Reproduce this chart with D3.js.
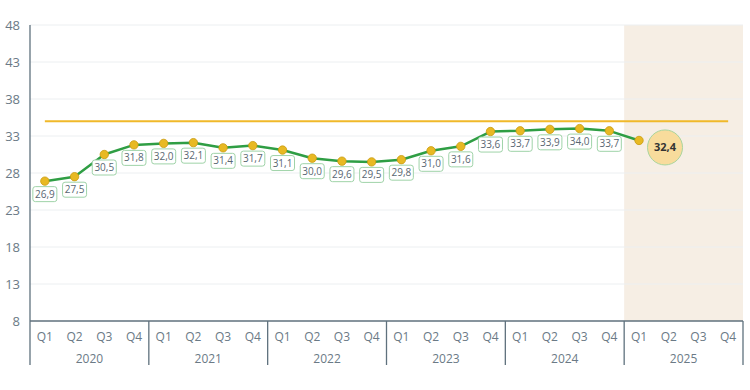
<!DOCTYPE html>
<html><head><meta charset="utf-8">
<script src="https://cdn.jsdelivr.net/npm/d3@7"></script>
<style>body{margin:0;background:#fff;}svg{display:block;font-family:"Open Sans",sans-serif;}</style>
</head><body><svg id="c" width="750" height="390"></svg>
<script>
const years = ["2020","2021","2022","2023","2024","2025"];
const quarters = ["Q1","Q2","Q3","Q4"];
const values = [26.9,27.5,30.5,31.8,32.0,32.1,31.4,31.7,31.1,30.0,29.6,29.5,29.8,31.0,31.6,33.6,33.7,33.9,34.0,33.7,32.4];
const target = 35;
const yTicks = [8,13,18,23,28,33,38,43,48];
const highlightYear = "2025";

const svg = d3.select("#c");
const L = 30, R = 743, T = 25, B = 321;
const cats = [];
years.forEach(y => quarters.forEach(q => cats.push(y + "-" + q)));
const x = d3.scaleBand().domain(cats).range([L, R]);
const xc = c => x(c) + x.bandwidth() / 2;
const y = d3.scaleLinear().domain([8, 48]).range([B, T]);
const fmt = v => d3.format(".1f")(v).replace(".", ",");

// shaded region
svg.append("rect").attr("x", x(highlightYear + "-Q1")).attr("y", T)
  .attr("width", R - x(highlightYear + "-Q1")).attr("height", B - T).attr("fill", "#f6eee4");

// grid
svg.append("g").selectAll("line").data(yTicks.slice(1)).join("line")
  .attr("x1", L).attr("x2", R).attr("y1", d => y(d)).attr("y2", d => y(d))
  .attr("stroke", "#eceff1").attr("stroke-width", 1);

// y labels
svg.append("g").selectAll("text").data(yTicks).join("text")
  .attr("x", 20).attr("y", d => y(d) + 4.5).attr("text-anchor", "end")
  .attr("font-size", 13).attr("fill", "#6b7a86").text(d => d);

// axes
svg.append("line").attr("x1", L).attr("x2", L).attr("y1", T).attr("y2", 365).attr("stroke", "#5f717d").attr("stroke-width", 1.3);
svg.append("line").attr("x1", L).attr("x2", R).attr("y1", B).attr("y2", B).attr("stroke", "#5f717d").attr("stroke-width", 1.3);
years.forEach((yr, i) => {
  const xe = i === years.length - 1 ? R : x(years[i + 1] + "-Q1");
  svg.append("line").attr("x1", xe).attr("x2", xe).attr("y1", B).attr("y2", 365).attr("stroke", "#5f717d").attr("stroke-width", 1.3);
  const x0 = x(yr + "-Q1");
  svg.append("text").attr("x", (x0 + xe) / 2).attr("y", 363).attr("text-anchor", "middle")
    .attr("font-size", 12).attr("fill", "#6b7a86").text(yr);
});
svg.append("g").selectAll("text").data(cats).join("text")
  .attr("x", d => xc(d)).attr("y", 341).attr("text-anchor", "middle")
  .attr("font-size", 12).attr("fill", "#6b7a86").text(d => d.split("-")[1]);

// target line
svg.append("line").attr("x1", xc(cats[0])).attr("x2", xc(cats[cats.length - 1]))
  .attr("y1", y(target)).attr("y2", y(target)).attr("stroke", "#f0b92a").attr("stroke-width", 2);

// line
const pts = values.map((v, i) => [xc(cats[i]), y(v)]);
svg.append("path").attr("d", d3.line()(pts))
  .attr("fill", "none").attr("stroke", "#2f9e44").attr("stroke-width", 2.5).attr("stroke-linejoin", "round");

// points
svg.append("g").selectAll("circle").data(pts).join("circle")
  .attr("cx", d => d[0]).attr("cy", d => d[1]).attr("r", 4.2)
  .attr("fill", "#e8b923").attr("stroke", "#c99a10").attr("stroke-width", 0.8);

// labels
const last = values.length - 1;
values.forEach((v, i) => {
  if (i === last) return;
  const g = svg.append("g");
  g.append("rect").attr("x", pts[i][0] - 12).attr("y", pts[i][1] + 5.5).attr("width", 24).attr("height", 15)
    .attr("rx", 2.5).attr("fill", "#fff").attr("stroke", "#9fd3a8").attr("stroke-width", 1);
  g.append("text").attr("x", pts[i][0]).attr("y", pts[i][1] + 16.5).attr("text-anchor", "middle")
    .attr("font-size", 10).attr("fill", "#5a6772").text(fmt(v));
});
// last big label
const lx = pts[last][0] + 26, ly = pts[last][1] + 7;
svg.append("circle").attr("cx", lx).attr("cy", ly).attr("r", 17.5)
  .attr("fill", "#f8dc9c").attr("stroke", "#a9d59d").attr("stroke-width", 1);
svg.append("text").attr("x", lx).attr("y", ly + 4).attr("text-anchor", "middle")
  .attr("font-size", 11).attr("font-weight", "bold").attr("fill", "#333").text(fmt(values[last]));
</script></body></html>
